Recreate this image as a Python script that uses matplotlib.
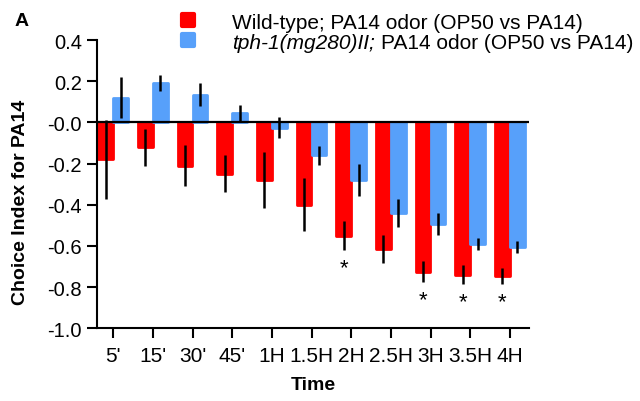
import numpy as np
import matplotlib
matplotlib.use('Agg')
import matplotlib.pyplot as plt
from matplotlib.lines import Line2D
from matplotlib.markers import MarkerStyle
from matplotlib.text import Annotation

plt.rcParams['font.family'] = ['Liberation Sans', 'DejaVu Sans']
plt.rcParams['axes.unicode_minus'] = False

# data
times = ["5'", "15'", "30'", "45'", "1H", "1.5H", "2H", "2.5H", "3H", "3.5H", "4H"]
wt_mean = [-0.18, -0.12, -0.21, -0.25, -0.28, -0.40, -0.55, -0.615, -0.725, -0.74, -0.745]
wt_err = [0.19, 0.09, 0.10, 0.09, 0.135, 0.13, 0.07, 0.07, 0.05, 0.045, 0.04]
tph_mean = [0.12, 0.19, 0.135, 0.045, -0.025, -0.16, -0.28, -0.44, -0.495, -0.59, -0.605]
tph_err = [0.10, 0.04, 0.055, 0.04, 0.05, 0.045, 0.08, 0.07, 0.053, 0.03, 0.03]
signif = [False, False, False, False, False, False, True, False, True, True, True]

red = '#FF0000'
blue = '#57A0FA'

fig = plt.figure(figsize=(6.4, 4.02), dpi=100)
ax = fig.add_axes([0.151, 0.181, 0.676, 0.717])

x = np.arange(len(times))
off = 0.19
w = 0.37

ax.bar(x - off, wt_mean, w, color=red, edgecolor=red, linewidth=2,
       joinstyle='round', zorder=2)
ax.bar(x + off, tph_mean, w, color=blue, edgecolor=blue, linewidth=2,
       joinstyle='round', zorder=2)
ax.errorbar(x - off, wt_mean, yerr=wt_err, fmt='none', ecolor='black',
            elinewidth=1.8, capsize=0, zorder=3)
ax.errorbar(x + off, tph_mean, yerr=tph_err, fmt='none', ecolor='black',
            elinewidth=1.8, capsize=0, zorder=3)

for i in range(len(times)):
    if signif[i]:
        ax.text(x[i] - off, wt_mean[i] - wt_err[i] - 0.035, '*', ha='center',
                va='top', fontsize=16)

ax.axhline(0, color='black', lw=1.6, zorder=4)

ax.set_xlim(-0.42, 10.49)
ax.set_ylim(-1.0, 0.4)
yt = np.arange(-1.0, 0.41, 0.2)
ax.set_yticks(yt)
ax.set_yticklabels(['%.1f' % v for v in yt])
ax.set_xticks(x)
ax.set_xticklabels(times, family=['Liberation Sans Narrow', 'Liberation Sans'])
ax.tick_params(axis='both', width=1.5, length=7.5)
ax.tick_params(axis='y', labelsize=14.5, pad=3)
ax.tick_params(axis='x', labelsize=15, pad=5)
for s in ['top', 'right']:
    ax.spines[s].set_visible(False)
for s in ['left', 'bottom']:
    ax.spines[s].set_linewidth(1.5)

ax.set_xlabel('Time', fontsize=14, fontweight='bold', labelpad=8)
ax.set_ylabel('Choice Index for PA14', fontsize=14, fontweight='bold')
ax.yaxis.set_label_coords(-0.156, 0.441)

fig.text(0.023, 0.946, 'A', fontsize=14, fontweight='bold', va='center')

fs = 15
mk = MarkerStyle('s', joinstyle='round')
handles = [Line2D([], [], marker=mk, ls='none', color=red, markersize=8,
                  markeredgewidth=3),
           Line2D([], [], marker=mk, ls='none', color=blue, markersize=8,
                  markeredgewidth=3)]
labels = ['Wild-type; PA14 odor (OP50 vs PA14)', 'tph-1(mg280)II;']
leg = fig.legend(handles, labels, loc='upper left', bbox_to_anchor=(0.2775, 0.966),
                 frameon=False, fontsize=fs, handlelength=1.0, handletextpad=1.63,
                 labelspacing=0.05, borderpad=0, borderaxespad=0)
t2 = leg.get_texts()[1]
t2.set_fontstyle('italic')
rest = Annotation('PA14 odor (OP50 vs PA14)', xy=(1, 0), xycoords=t2,
                  xytext=(0.278 * fs, 0), textcoords='offset points',
                  ha='left', va='bottom', fontsize=fs, zorder=10)
fig.add_artist(rest)

fig.savefig('out.png', dpi=100)
